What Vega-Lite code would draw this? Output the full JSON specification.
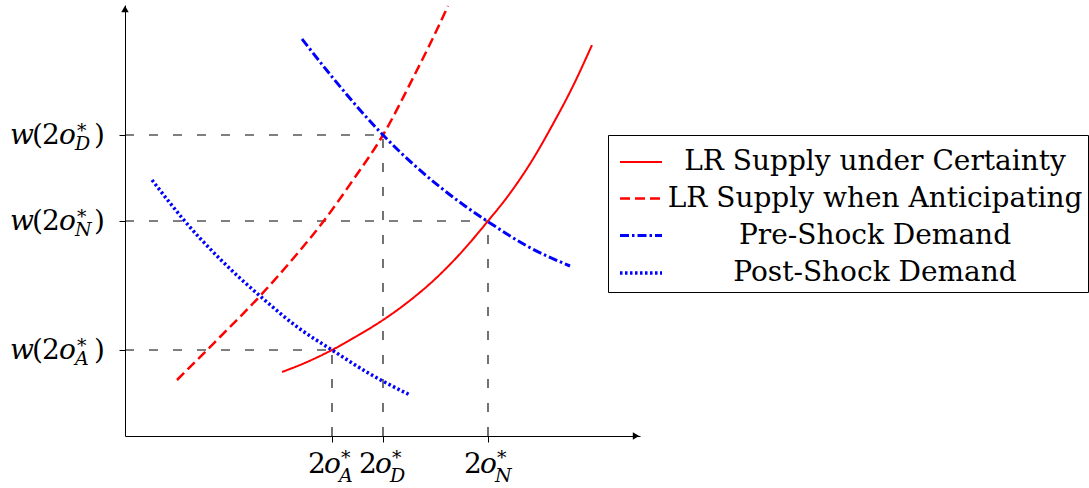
{
  "$schema": "https://vega.github.io/schema/vega-lite/v6.json",
  "width": 515,
  "height": 431,
  "autosize": {"type": "none"},
  "padding": {"left": 125, "top": 5, "right": 449, "bottom": 52},
  "background": "white",
  "config": {"view": {"stroke": null}, "font": "DejaVu Serif"},
  "datasets": {
    "guides": [
      {"x0": 0, "x1": 258, "y0": 301, "y1": 301},
      {"x0": 0, "x1": 363, "y0": 215, "y1": 215},
      {"x0": 0, "x1": 207, "y0": 86, "y1": 86},
      {"x0": 207, "x1": 207, "y0": 0, "y1": 86},
      {"x0": 258, "x1": 258, "y0": 0, "y1": 301},
      {"x0": 363, "x1": 363, "y0": 0, "y1": 215}
    ],
    "curves": [
      {"series": "LR Supply under Certainty", "x": 157, "y": 64},
      {"series": "LR Supply under Certainty", "x": 182, "y": 74},
      {"series": "LR Supply under Certainty", "x": 207, "y": 86},
      {"series": "LR Supply under Certainty", "x": 232, "y": 100},
      {"series": "LR Supply under Certainty", "x": 258, "y": 116},
      {"series": "LR Supply under Certainty", "x": 283, "y": 134},
      {"series": "LR Supply under Certainty", "x": 308, "y": 155},
      {"series": "LR Supply under Certainty", "x": 333, "y": 180},
      {"series": "LR Supply under Certainty", "x": 363, "y": 215},
      {"series": "LR Supply under Certainty", "x": 383, "y": 240},
      {"series": "LR Supply under Certainty", "x": 408, "y": 277},
      {"series": "LR Supply under Certainty", "x": 428, "y": 312},
      {"series": "LR Supply under Certainty", "x": 448, "y": 350},
      {"series": "LR Supply under Certainty", "x": 467, "y": 391},
      {"series": "LR Supply when Anticipating", "x": 52, "y": 56},
      {"series": "LR Supply when Anticipating", "x": 95, "y": 99},
      {"series": "LR Supply when Anticipating", "x": 135, "y": 140},
      {"series": "LR Supply when Anticipating", "x": 172, "y": 182},
      {"series": "LR Supply when Anticipating", "x": 198, "y": 214},
      {"series": "LR Supply when Anticipating", "x": 228, "y": 256},
      {"series": "LR Supply when Anticipating", "x": 258, "y": 301},
      {"series": "LR Supply when Anticipating", "x": 288, "y": 358},
      {"series": "LR Supply when Anticipating", "x": 306, "y": 394},
      {"series": "LR Supply when Anticipating", "x": 323, "y": 430},
      {"series": "Pre-Shock Demand", "x": 177, "y": 397},
      {"series": "Pre-Shock Demand", "x": 208, "y": 358},
      {"series": "Pre-Shock Demand", "x": 235, "y": 326},
      {"series": "Pre-Shock Demand", "x": 258, "y": 301},
      {"series": "Pre-Shock Demand", "x": 288, "y": 272},
      {"series": "Pre-Shock Demand", "x": 315, "y": 249},
      {"series": "Pre-Shock Demand", "x": 340, "y": 230},
      {"series": "Pre-Shock Demand", "x": 362, "y": 215},
      {"series": "Pre-Shock Demand", "x": 402, "y": 190},
      {"series": "Pre-Shock Demand", "x": 445, "y": 170},
      {"series": "Post-Shock Demand", "x": 27, "y": 256},
      {"series": "Post-Shock Demand", "x": 45, "y": 233},
      {"series": "Post-Shock Demand", "x": 58, "y": 217},
      {"series": "Post-Shock Demand", "x": 95, "y": 177},
      {"series": "Post-Shock Demand", "x": 135, "y": 140},
      {"series": "Post-Shock Demand", "x": 175, "y": 107},
      {"series": "Post-Shock Demand", "x": 207, "y": 86},
      {"series": "Post-Shock Demand", "x": 245, "y": 62},
      {"series": "Post-Shock Demand", "x": 285, "y": 41}
    ],
    "arrows": [
      {"ax": 0, "ay": 427, "dir": "up"},
      {"ax": 511, "ay": 0, "dir": "right"}
    ],
    "ylabels": [
      {"lv": 301, "w": "w", "p": "(", "two": "2", "o": "o", "star": "*", "sub": "D", "cp": ")"},
      {"lv": 215, "w": "w", "p": "(", "two": "2", "o": "o", "star": "*", "sub": "N", "cp": ")"},
      {"lv": 86, "w": "w", "p": "(", "two": "2", "o": "o", "star": "*", "sub": "A", "cp": ")"}
    ],
    "xlabels": [
      {"at": 207, "two": "2", "o": "o", "star": "*", "sub": "A"},
      {"at": 258, "two": "2", "o": "o", "star": "*", "sub": "D"},
      {"at": 363, "two": "2", "o": "o", "star": "*", "sub": "N"}
    ]
  },
  "layer": [
    {
      "data": {"name": "guides"},
      "mark": {"type": "rule", "strokeDash": [9, 15], "color": "#000000", "strokeWidth": 1.1},
      "encoding": {
        "x": {"field": "x0", "type": "quantitative", "scale": {"domain": [0, 515], "nice": false, "zero": false},
              "axis": {"values": [207, 258, 363], "labels": false, "title": null, "grid": false, "domainColor": "black", "tickColor": "black", "tickSize": 6, "domainWidth": 1, "tickWidth": 1}},
        "x2": {"field": "x1"},
        "y": {"field": "y0", "type": "quantitative", "scale": {"domain": [0, 431], "nice": false, "zero": false},
              "axis": {"values": [86, 215, 301], "labels": false, "title": null, "grid": false, "domainColor": "black", "tickColor": "black", "tickSize": 6, "domainWidth": 1, "tickWidth": 1}},
        "y2": {"field": "y1"}
      }
    },
    {
      "data": {"name": "curves"},
      "mark": {"type": "line", "strokeCap": "butt", "interpolate": "monotone"},
      "encoding": {
        "x": {"field": "x", "type": "quantitative"},
        "y": {"field": "y", "type": "quantitative"},
        "color": {
          "field": "series", "type": "nominal",
          "scale": {"domain": ["LR Supply under Certainty", "LR Supply when Anticipating", "Pre-Shock Demand", "Post-Shock Demand"], "range": ["#ff0000", "#ff0000", "#0000ff", "#0000ff"]},
          "legend": {
            "title": null, "orient": "none", "legendX": 483, "legendY": 130,
            "strokeColor": "black", "fillColor": "white", "padding": 5, "cornerRadius": 0,
            "symbolType": "stroke", "symbolSize": 1764, "symbolOffset": 5, "rowPadding": -3,
            "labelFont": "DejaVu Serif", "labelFontSize": 28, "labelColor": "black",
            "labelAlign": "center", "labelOffset": 211, "labelLimit": 1000, "labelBaseline": "middle"
          }
        },
        "strokeDash": {
          "field": "series", "type": "nominal",
          "scale": {"domain": ["LR Supply under Certainty", "LR Supply when Anticipating", "Pre-Shock Demand", "Post-Shock Demand"], "range": [[1, 0], [10, 5], [9, 3, 2.5, 3], [2.5, 2.5]]},
          "legend": {"title": null}
        },
        "strokeWidth": {
          "field": "series", "type": "nominal",
          "scale": {"domain": ["LR Supply under Certainty", "LR Supply when Anticipating", "Pre-Shock Demand", "Post-Shock Demand"], "range": [2, 3.5, 3.5, 3.5]},
          "legend": {"title": null}
        }
      }
    },
    {
      "data": {"name": "arrows"},
      "mark": {"type": "point", "filled": true, "color": "black", "size": 55, "opacity": 1},
      "encoding": {
        "x": {"field": "ax", "type": "quantitative"},
        "y": {"field": "ay", "type": "quantitative"},
        "shape": {"field": "dir", "type": "nominal", "scale": {"domain": ["up", "right"], "range": ["triangle-up", "triangle-right"]}, "legend": null}
      }
    },
    {
      "data": {"name": "ylabels"},
      "encoding": {
        "x": {"datum": 0, "type": "quantitative"},
        "y": {"field": "lv", "type": "quantitative"}
      },
      "layer": [
        {"mark": {"type": "text", "align": "left", "baseline": "alphabetic", "fontSize": 28, "fontStyle": "italic", "font": "DejaVu Serif", "color": "black", "dx": -115, "dy": 9}, "encoding": {"text": {"field": "w"}}},
        {"mark": {"type": "text", "align": "left", "baseline": "alphabetic", "fontSize": 28, "font": "DejaVu Serif", "color": "black", "dx": -93, "dy": 9}, "encoding": {"text": {"field": "p"}}},
        {"mark": {"type": "text", "align": "left", "baseline": "alphabetic", "fontSize": 28, "font": "DejaVu Serif", "color": "black", "dx": -83, "dy": 9}, "encoding": {"text": {"field": "two"}}},
        {"mark": {"type": "text", "align": "left", "baseline": "alphabetic", "fontSize": 28, "fontStyle": "italic", "font": "DejaVu Serif", "color": "black", "dx": -66, "dy": 9}, "encoding": {"text": {"field": "o"}}},
        {"mark": {"type": "text", "align": "left", "baseline": "alphabetic", "fontSize": 19, "font": "DejaVu Serif", "color": "black", "dx": -48, "dy": 2}, "encoding": {"text": {"field": "star"}}},
        {"mark": {"type": "text", "align": "left", "baseline": "alphabetic", "fontSize": 19, "fontStyle": "italic", "font": "DejaVu Serif", "color": "black", "dx": -50, "dy": 15}, "encoding": {"text": {"field": "sub"}}},
        {"mark": {"type": "text", "align": "left", "baseline": "alphabetic", "fontSize": 28, "font": "DejaVu Serif", "color": "black", "dx": -31, "dy": 9}, "encoding": {"text": {"field": "cp"}}}
      ]
    },
    {
      "data": {"name": "xlabels"},
      "encoding": {
        "x": {"field": "at", "type": "quantitative"},
        "y": {"datum": 0, "type": "quantitative"}
      },
      "layer": [
        {"mark": {"type": "text", "align": "left", "baseline": "alphabetic", "fontSize": 28, "font": "DejaVu Serif", "color": "black", "dx": -24, "dy": 37}, "encoding": {"text": {"field": "two"}}},
        {"mark": {"type": "text", "align": "left", "baseline": "alphabetic", "fontSize": 28, "fontStyle": "italic", "font": "DejaVu Serif", "color": "black", "dx": -8, "dy": 37}, "encoding": {"text": {"field": "o"}}},
        {"mark": {"type": "text", "align": "left", "baseline": "alphabetic", "fontSize": 19, "font": "DejaVu Serif", "color": "black", "dx": 9, "dy": 28}, "encoding": {"text": {"field": "star"}}},
        {"mark": {"type": "text", "align": "left", "baseline": "alphabetic", "fontSize": 19, "fontStyle": "italic", "font": "DejaVu Serif", "color": "black", "dx": 7, "dy": 46}, "encoding": {"text": {"field": "sub"}}}
      ]
    }
  ]
}
